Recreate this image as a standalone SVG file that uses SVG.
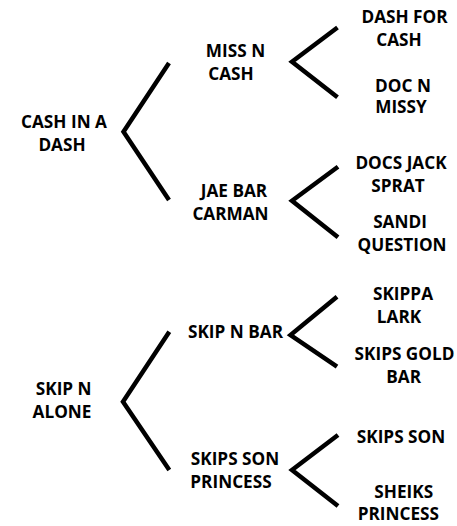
<svg xmlns="http://www.w3.org/2000/svg" width="457" height="526" viewBox="0 0 457 526">
<style>
text{font-family:"Open Sans","Noto Sans","Liberation Sans",sans-serif;font-weight:bold;font-size:17.2px;fill:#000;text-anchor:middle}
.c{fill:none;stroke:#000;stroke-width:4.5;stroke-linejoin:miter;stroke-linecap:butt}
</style>
<rect width="457" height="526" fill="#fff"/>
<g id="connectors">
<polyline class="c" points="169,63 123.5,131.7 169,200"/>
<polyline class="c" points="337.5,27.5 292,61.7 337.5,97.3"/>
<polyline class="c" points="338,166.7 292,200.7 338,237.3"/>
<polyline class="c" points="169.3,331.7 123,401.7 169.3,470"/>
<polyline class="c" points="337,296.7 290.5,335 337,366.7"/>
<polyline class="c" points="338,435 292,470 338,506"/>
</g>
<g id="n-cash-in-a-dash"><text x="64" y="127.7">CASH IN A</text><text x="62" y="150.7">DASH</text></g>
<g id="n-miss-n-cash"><text x="235.5" y="57.3">MISS N</text><text x="231" y="80">CASH</text></g>
<g id="n-jae-bar-carman"><text x="234" y="196.7">JAE BAR</text><text x="230.5" y="220">CARMAN</text></g>
<g id="n-dash-for-cash"><text x="404.5" y="22.7">DASH FOR</text><text x="399" y="45.7">CASH</text></g>
<g id="n-doc-n-missy"><text x="403" y="91.7">DOC N</text><text x="401" y="113.3">MISSY</text></g>
<g id="n-docs-jack-sprat"><text x="401" y="169.3">DOCS JACK</text><text x="398" y="191.7">SPRAT</text></g>
<g id="n-sandi-question"><text x="400" y="228.3">SANDI</text><text x="402" y="250.7">QUESTION</text></g>
<g id="n-skip-n-alone"><text x="63.7" y="395">SKIP N</text><text x="62" y="418.3">ALONE</text></g>
<g id="n-skip-n-bar"><text x="235.5" y="338.3">SKIP N BAR</text></g>
<g id="n-skips-son-princess"><text x="235" y="465">SKIPS SON</text><text x="231" y="488.3">PRINCESS</text></g>
<g id="n-skippa-lark"><text x="403" y="300">SKIPPA</text><text x="399" y="322.7">LARK</text></g>
<g id="n-skips-gold-bar"><text x="404.5" y="360">SKIPS GOLD</text><text x="403.7" y="382.7">BAR</text></g>
<g id="n-skips-son"><text x="401" y="443.3">SKIPS SON</text></g>
<g id="n-sheiks-princess"><text x="403.7" y="498.3">SHEIKS</text><text x="398.3" y="520">PRINCESS</text></g>
</svg>
